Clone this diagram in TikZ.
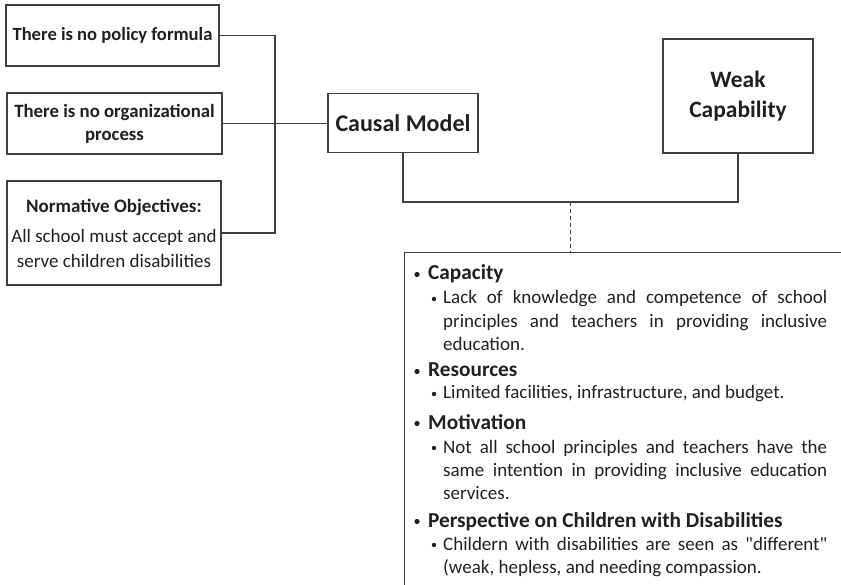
\documentclass[tikz,border=0pt]{standalone}
\usepackage{fontspec}
\setmainfont{Carlito}
\newfontfamily\rawfont{Carlito}[Ligatures=TeXOff]
\usetikzlibrary{positioning}

\definecolor{ink}{RGB}{35,31,32}
\definecolor{edge}{RGB}{64,64,64}

\begin{document}
\begin{tikzpicture}[x=1pt,y=-1pt,
  box/.style={draw=edge, line width=1.2pt, inner sep=0pt, align=center, text=ink},
  link/.style={draw=edge, line width=1.2pt},
  head/.style={anchor=base west, inner sep=0pt, text=ink,
    font=\fontsize{21.3}{24}\selectfont\bfseries},
  point/.style={anchor=base west, inner sep=0pt, text=ink, text width=384pt,
    align=justify, font=\fontsize{19}{23.5}\selectfont}
]
  \useasboundingbox (0,0) rectangle (841,585);
  \clip (0,0) rectangle (841,585);

  % problem boxes on the left
  \node[box, minimum width=213pt, minimum height=61pt,
        font=\fontsize{18.6}{23}\selectfont\bfseries] (policy) at (112.5,35.5)
    {There is no policy formula};
  \node[box, minimum width=215pt, minimum height=61pt,
        font=\fontsize{18.8}{23}\selectfont\bfseries] (process) at (114.5,123.5)
    {There is no organizational\\process};
  \node[box, minimum width=214pt, minimum height=104pt,
        font=\fontsize{19}{25}\selectfont] (norm) at (114,233)
    {\textbf{Normative Objectives:}\\[5pt]All school must accept and\\serve children disabilities};

  % model and capability
  \node[box, minimum width=150pt, minimum height=59pt,
        font=\fontsize{24}{29}\selectfont\bfseries] (causal) at (403,123)
    {Causal Model};
  \node[box, minimum width=150pt, minimum height=114pt,
        font=\fontsize{23.5}{30}\selectfont\bfseries] (weak) at (738,96)
    {Weak\\Capability};

  \node[box, anchor=north west, minimum width=470pt, minimum height=360pt]
    (factors) at (404,252) {};

  % connectors
  \coordinate (spine) at (275,0);
  \coordinate (joint) at (570,202);
  \path[link] (policy.east) -- (policy.east -| spine) -- (norm.east -| spine) -- (norm.east);
  \path[link] (process.east) -- (process.east -| causal.west);
  \path[link] (causal.south) |- (joint) -| (weak.south);
  \draw[edge, line width=1pt, dash pattern=on 4pt off 3pt] (joint) -- (joint |- factors.north);

  % factor list
  \node[head] (capacity) at (428,280) {Capacity};
  \node[point] (capacity-txt) at (443,304)
    {Lack of knowledge and competence of school\linebreak principles and teachers in providing inclusive\linebreak education.};
  \node[head] (resources) at (428,377) {Resources};
  \node[point] (resources-txt) at (443,399)
    {Limited facilities, infrastructure, and budget.};
  \node[head] (motivation) at (428,429) {Motivation};
  \node[point] (motivation-txt) at (443,453)
    {Not all school principles and teachers have the\linebreak same intention in providing inclusive education\linebreak services.};
  \node[head] (perspective) at (428,527) {Perspective on Children with Disabilities};
  \node[point] (perspective-txt) at (443,550)
    {Childern with disabilities are seen as {\rawfont"}different{\rawfont"}\linebreak (weak, hepless, and needing compassion.};

  \foreach \y in {280,377,429,527}
    \fill[ink] (417,\y-5.5) circle (2.6pt);
  \foreach \y in {304,399,453,550}
    \fill[ink] (434,\y-5) circle (2.2pt);
\end{tikzpicture}
\end{document}
